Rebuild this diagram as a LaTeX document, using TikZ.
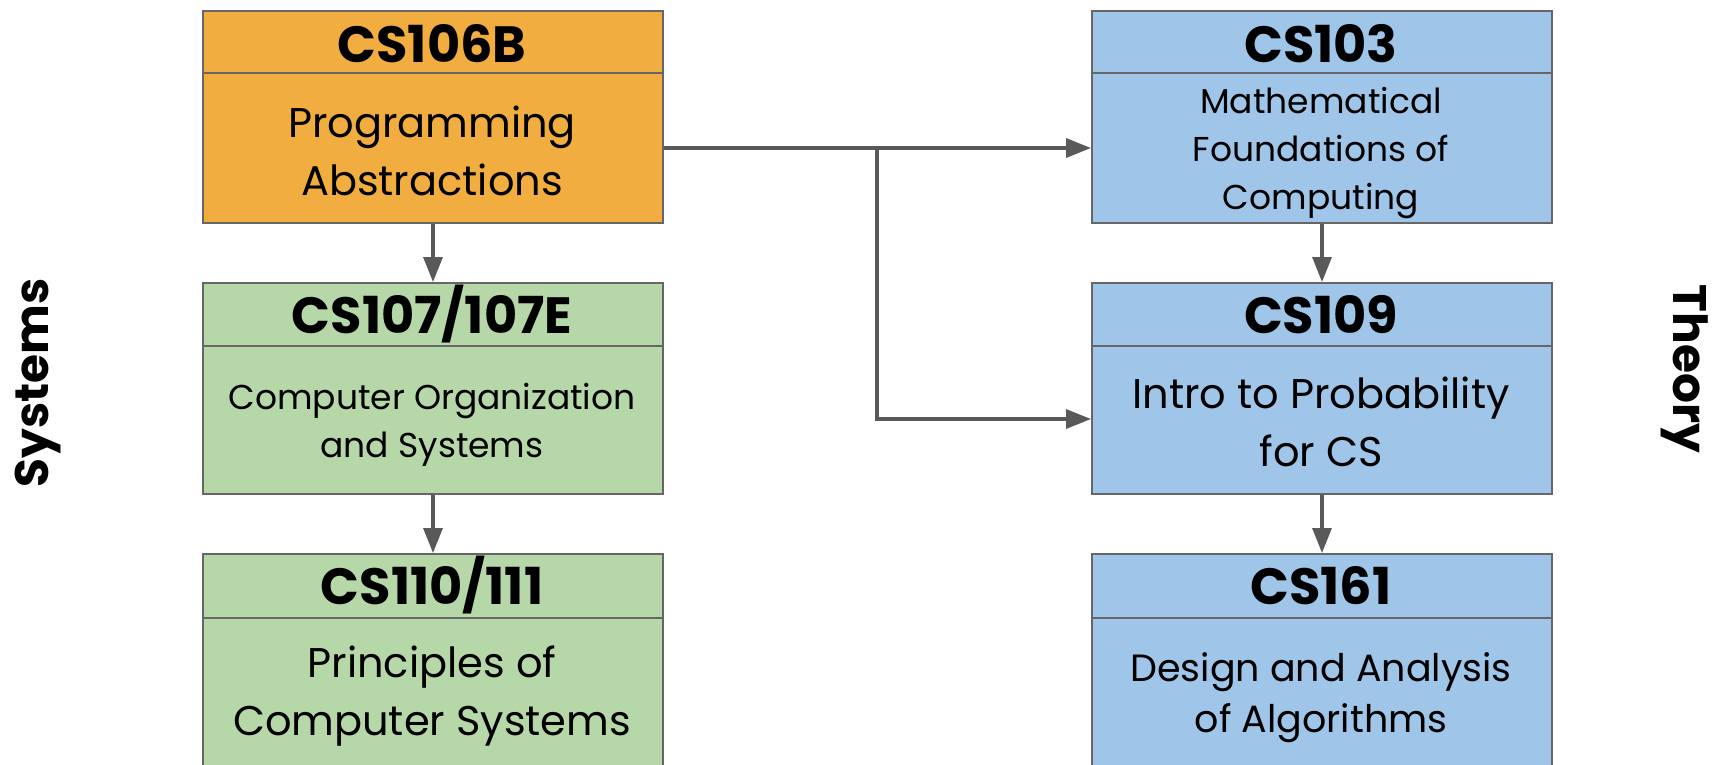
\documentclass[tikz,border=0pt]{standalone}
\usepackage{fontspec}
\setmainfont{Poppins}
\usetikzlibrary{arrows.meta}
\definecolor{cOrange}{HTML}{F1AD40}
\definecolor{cGreen}{HTML}{B6D7A8}
\definecolor{cBlue}{HTML}{9FC5E8}
\definecolor{cBorder}{HTML}{666666}
\definecolor{cArrow}{HTML}{595959}
\begin{document}
\begin{tikzpicture}[x=1pt,y=-1pt,
  box/.style={draw=cBorder, line width=2pt, minimum width=460pt, inner sep=0pt, anchor=north west, rectangle},
  divider/.style={draw=cBorder, line width=2pt},
  ttl/.style={font=\bfseries\fontsize{51}{58}\selectfont, anchor=base, inner sep=0pt},
  bigtxt/.style={font=\fontsize{41.5}{58}\selectfont, align=center, inner sep=0pt},
  midtxt/.style={font=\fontsize{38}{51}\selectfont, align=center, inner sep=0pt},
  smalltxt/.style={font=\fontsize{34.5}{48}\selectfont, align=center, inner sep=0pt},
  side/.style={font=\bfseries\fontsize{47}{52}\selectfont, inner sep=0pt},
  conn/.style={draw=cArrow, line width=3.3pt, -{Triangle[length=25pt,width=19pt]}}
]
\useasboundingbox (0,0) rectangle (1712,764);
% left column
\node[box, fill=cOrange, minimum height=212pt] (b106) at (202,10) {};
\node[box, fill=cGreen, minimum height=211pt] (b107) at (202,282) {};
\node[box, fill=cGreen, minimum height=216pt] (b110) at (202,553) {};
% right column
\node[box, fill=cBlue, minimum height=212pt] (b103) at (1091,10) {};
\node[box, fill=cBlue, minimum height=211pt] (b109) at (1091,282) {};
\node[box, fill=cBlue, minimum height=216pt] (b161) at (1091,553) {};
% dividers
\draw[divider] (b106.west |- 0,73) -- (b106.east |- 0,73);
\draw[divider] (b107.west |- 0,346) -- (b107.east |- 0,346);
\draw[divider] (b110.west |- 0,618) -- (b110.east |- 0,618);
\draw[divider] (b103.west |- 0,73) -- (b103.east |- 0,73);
\draw[divider] (b109.west |- 0,346) -- (b109.east |- 0,346);
\draw[divider] (b161.west |- 0,618) -- (b161.east |- 0,618);
% titles
\node[ttl] (t106) at (432,62) {CS106B};
\node[ttl] (t107) at (432,333) {CS107/107E};
\node[ttl] (t110) at (432,604) {CS110/111};
\node[ttl] (t103) at (1321,62) {CS103};
\node[ttl] (t109) at (1321,333) {CS109};
\node[ttl] (t161) at (1321,604) {CS161};
% bodies
\node[bigtxt] (d106) at (432,150.5) {Programming\\Abstractions};
\node[smalltxt] (d107) at (432,424.5) {Computer Organization\\and Systems};
\node[bigtxt] (d110) at (432,696) {Principles of\\Computer Systems};
\node[smalltxt] (d103) at (1321,153) {Mathematical\\Foundations of\\Computing};
\node[bigtxt] (d109) at (1321,422) {Intro to Probability\\for CS};
\node[midtxt] (d161) at (1321,697.5) {Design and Analysis\\of Algorithms};
% side labels
\node[side, rotate=90] (sys) at (38,383) {Systems};
\node[side, rotate=-90] (thy) at (1685,369) {Theory};
% connectors
\draw[conn] (b106.south) -- (b107.north);
\draw[conn] (b107.south) -- (b110.north);
\draw[conn] (b103.south) -- (b109.north);
\draw[conn] (b109.south) -- (b161.north);
\coordinate (split) at (877,148);
\draw[conn] (b106.east |- split) -- (b103.west |- split);
\draw[conn] (split) |- (b109.west |- 0,419);
\end{tikzpicture}
\end{document}
